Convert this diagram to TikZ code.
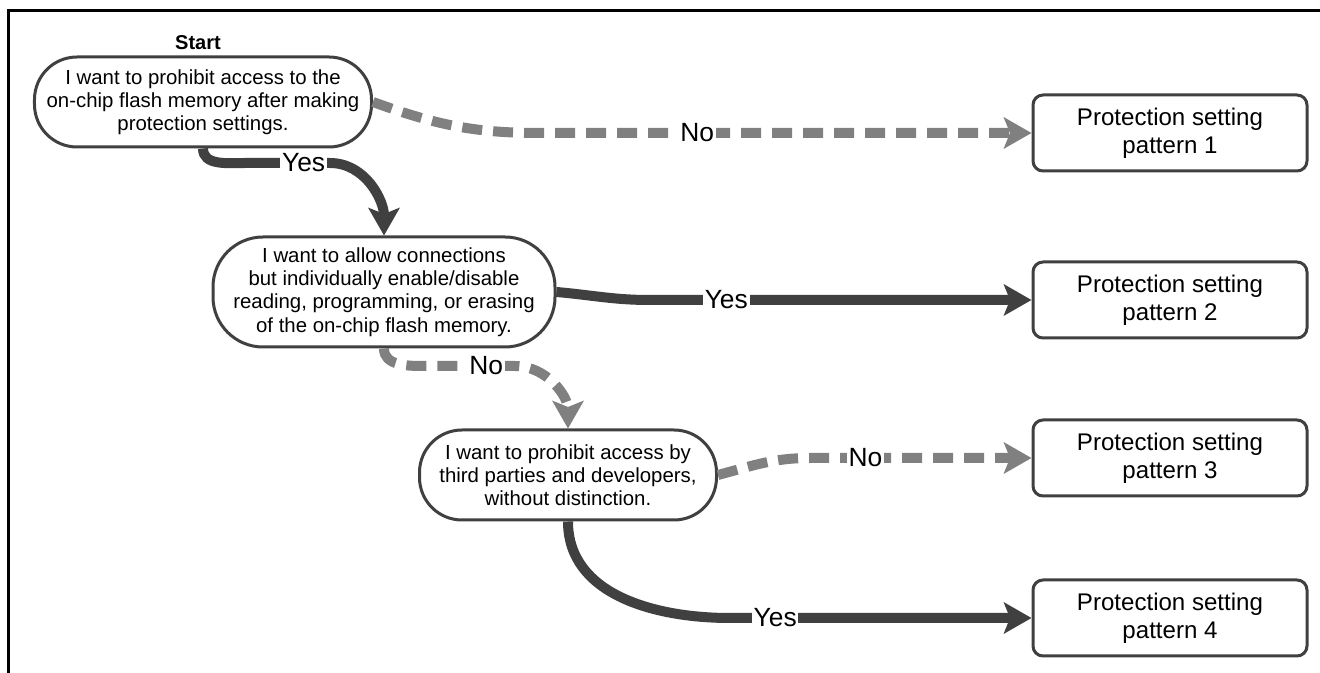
\documentclass[tikz,border=0pt]{standalone}
\usepackage{fontspec}
\setmainfont{Liberation Sans}
\usetikzlibrary{arrows.meta}
\definecolor{darkline}{HTML}{404040}
\definecolor{lightline}{HTML}{808080}

\begin{document}
\begin{tikzpicture}
% Estilos
\tikzset{
  question/.style={rectangle, draw=darkline, line width=0.06cm, fill=white, align=center, inner sep=2pt, rounded corners=0.85cm, font=\fontsize{11.6}{13.2}\selectfont},
  resultbox/.style={rectangle, draw=darkline, line width=0.06cm, fill=white, align=center, rounded corners=0.2cm, minimum width=5.48cm, minimum height=1.52cm, font=\fontsize{13.7}{16}\selectfont},
  yesline/.style={darkline, line width=0.2cm, -{Stealth[length=0.55cm,width=0.62cm,inset=0.12cm]}},
  noline/.style={lightline, line width=0.2cm, dash pattern=on 0.4cm off 0.22cm, -{Stealth[length=0.55cm,width=0.62cm,inset=0.12cm]}},
  answer/.style={fill=white, inner sep=1pt, text=black, font=\fontsize{15}{17}\selectfont}
}
\useasboundingbox (0,0) rectangle (26.4,-13.46);

% Moldura
\draw[line width=0.065cm] (0.166,-13.46) |- (26.4,-0.21);

% Perguntas
\node[font=\fontsize{11.4}{13}\selectfont\bfseries] (start) at (3.96,-0.86) {Start};
\node[question, minimum width=6.74cm, minimum height=1.8cm] (q1) at (4.06,-2.04) {I want to prohibit access to the\\on-chip flash memory after making\\protection settings.};
\node[question, minimum width=6.84cm, minimum height=2.2cm, rounded corners=1.0cm] (q2) at (7.68,-5.84) {I want to allow connections\\but individually enable/disable\\reading, programming, or erasing\\of the on-chip flash memory.};
\node[question, minimum width=5.94cm, minimum height=1.8cm] (q3) at (11.36,-9.5) {I want to prohibit access by\\third parties and developers,\\without distinction.};

% Resultados
\node[resultbox] (p1) at (23.4,-2.66) {Protection setting\\pattern 1};
\node[resultbox] (p2) at (23.4,-6.0) {Protection setting\\pattern 2};
\node[resultbox] (p3) at (23.4,-9.16) {Protection setting\\pattern 3};
\node[resultbox] (p4) at (23.4,-12.36) {Protection setting\\pattern 4};

% Pontos de passagem
\coordinate (a1) at (10.8,-2.66);
\coordinate (b1) at (4.9,-3.26);
\coordinate (b2) at (6.6,-3.26);
\coordinate (c1) at (13.0,-6.0);
\coordinate (d1) at (8.5,-7.32);
\coordinate (d2) at (10.3,-7.32);
\coordinate (e1) at (16.2,-9.16);
\coordinate (f1) at (14.6,-12.36);

% Setas
\draw[noline] (q1.east) to[out=-20,in=180] (a1) -- node[answer,pos=0.32] {No} (p1.west);
\draw[yesline] (q1.south) to[out=-90,in=180] (b1) -- node[answer,pos=0.69] {Yes} (b2) to[out=0,in=90] (q2.north);
\draw[yesline] (q2.east) to[out=-5,in=180] (c1) -- node[answer,pos=0.2] {Yes} (p2.west);
\draw[noline] (q2.south) to[out=-90,in=180] (d1) -- node[answer,pos=0.68] {No} (d2) to[out=0,in=90] (q3.north);
\draw[noline] (q3.east) to[out=15,in=180] (e1) -- node[answer,pos=0.25] {No} (p3.west);
\draw[yesline] (q3.south) to[out=-90,in=180] (f1) -- node[answer,pos=0.15] {Yes} (p4.west);

\end{tikzpicture}
\end{document}
